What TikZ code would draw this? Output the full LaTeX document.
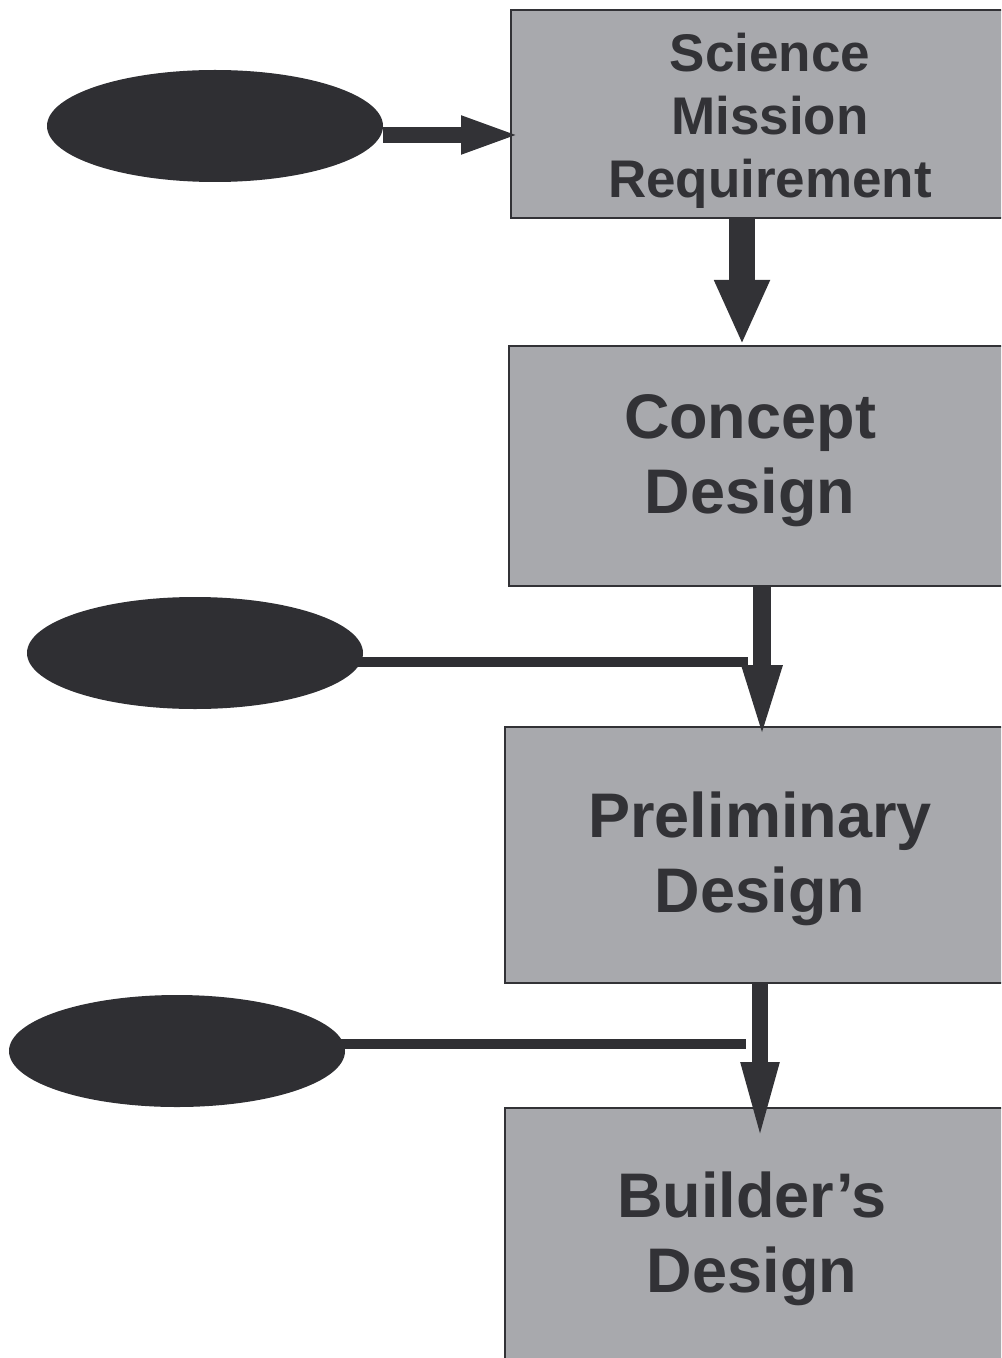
\documentclass[tikz,border=0pt]{standalone}
\usepackage{fontspec}
\setmainfont{Liberation Sans}
\usetikzlibrary{arrows.meta,shapes.geometric}
\definecolor{boxgray}{HTML}{A8A9AD}
\definecolor{ink}{HTML}{323236}
\definecolor{blob}{HTML}{2F2F33}
\tikzset{
  stagebox/.style={draw=ink, line width=1pt, fill=boxgray, rectangle, anchor=north west, inner sep=0pt, minimum width=270pt},
  stagetext/.style={text=ink, align=center, anchor=base, inner sep=0pt, font=\bfseries\fontsize{31.5}{37.5}\selectfont},
  blobnode/.style={ellipse, fill=blob, draw=none, minimum width=168pt, minimum height=56pt, inner sep=0pt},
  feedline/.style={draw=blob, line width=5pt},
  bigarrow/.style={draw=ink, fill=ink, line width=13pt, -{Triangle[length=32.5pt, width=25.5pt]}},
  midarrow/.style={draw=ink, fill=ink, line width=9pt, -{Triangle[length=39pt, width=17.5pt]}},
  sidearrow/.style={draw=ink, fill=ink, line width=8pt, -{Triangle[length=30pt, width=17pt]}},
}
\begin{document}
\begin{tikzpicture}[x=0.5pt, y=-0.5pt]
\clip (0,0) rectangle (1001,1358);
\fill[white] (0,0) rectangle (1001,1358);
% boxes
\node[stagebox, minimum height=104pt] (b1) at (510,9) {};
\node[stagebox, minimum height=120pt] (b2) at (508,345) {};
\node[stagebox, minimum height=128pt] (b3) at (504,726) {};
\node[stagebox, minimum height=150pt] (b4) at (504,1107) {};
% texts
\node[stagetext, font=\bfseries\fontsize{26.5}{31.5}\selectfont] (t1) at (770,198) {Science\\Mission\\Requirement};
\node[stagetext] (t2) at (750,513) {Concept\\Design};
\node[stagetext] (t3) at (760,912) {Preliminary\\Design};
\node[stagetext] (t4) at (752,1292) {Builder’s\\Design};
% coordinates
\coordinate (a1) at (521,135);
\coordinate (a2) at (742,345);
\coordinate (a3) at (762,743);
\coordinate (a4) at (760,1142);
\coordinate (j2) at (748,662);
\coordinate (j3) at (746,1044);
% feed lines
\draw[feedline] (j2 -| 300,0) -- (j2);
\draw[feedline] (j3 -| 300,0) -- (j3);
% ellipses
\node[blobnode] (e1) at (215,126) {};
\node[blobnode] (e2) at (195,653) {};
\node[blobnode] (e3) at (177,1051) {};
% arrows
\draw[sidearrow] (e1.east |- a1) -- (a1);
\draw[bigarrow] (b1.south -| a2) -- (a2);
\draw[midarrow] (b2.south -| a3) -- (a3);
\draw[sidearrow, line width=8pt, -{Triangle[length=40pt, width=17pt]}] (b3.south -| a4) -- (a4);
\end{tikzpicture}
\end{document}
